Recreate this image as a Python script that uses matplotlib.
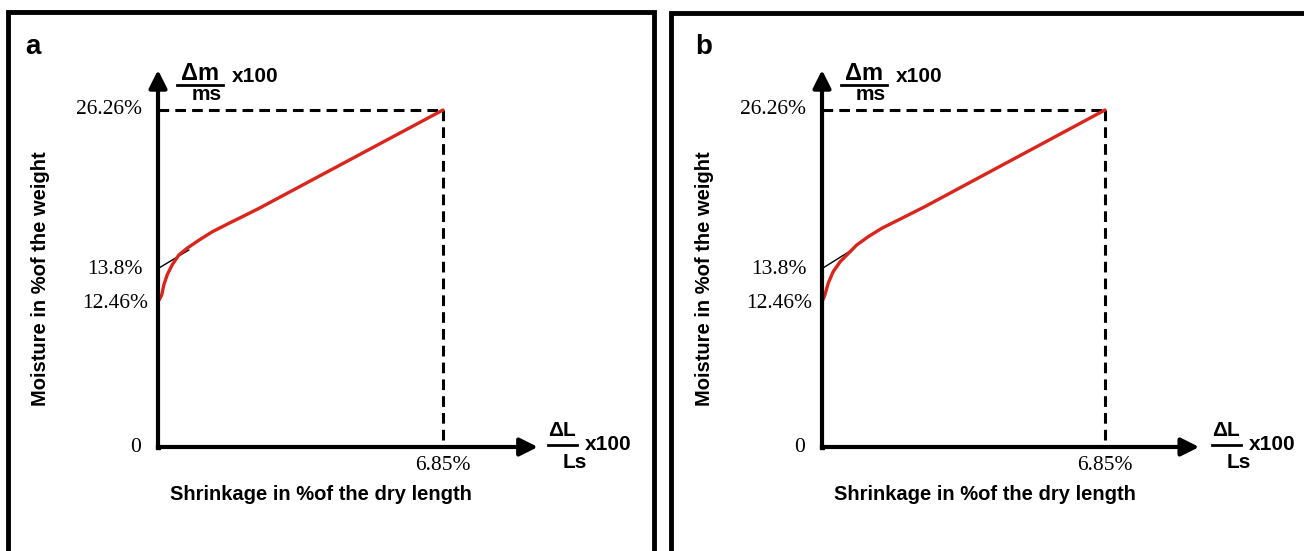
import matplotlib
matplotlib.use("Agg")
import matplotlib.pyplot as plt
from matplotlib.lines import Line2D

W, H = 1304, 551

# values
x_end = 6.85          # shrinkage at saturation (%)
y_end = 26.26         # moisture at saturation (%)

tangent_a_x = [0, 0.74]
tangent_a_y = [13.9, 15.35]
tangent_b_x = [0, 0.72]
tangent_b_y = [13.9, 15.35]

curve_a_x = [0, 0.09, 0.14, 0.22, 0.34, 0.50, 0.70, 0.99, 1.31, 1.71, 2.11, 2.43, 6.85]
curve_a_y = [11.3, 11.85, 12.63, 13.41, 14.19, 14.96, 15.49, 16.13, 16.78, 17.44, 18.08, 18.60, 26.26]

curve_b_x = [0, 0.07, 0.15, 0.27, 0.44, 0.64, 0.84, 1.12, 1.45, 1.85, 2.25, 2.49, 6.85]
curve_b_y = [11.3, 11.85, 12.76, 13.66, 14.44, 15.09, 15.74, 16.39, 17.05, 17.69, 18.34, 18.73, 26.26]

ytick_labels = ["0", "12.46%", "13.8%", "26.26%"]
ytick_pos = [0, 11.2, 13.8, 26.26]
ytick_dx = [-17, -10, -15, -16]   # px left of the axis
xtick_label = "6.85%"


def fx(px):
    return px / W


def fy(py):
    return 1 - py / H


fig = plt.figure(figsize=(W / 100, H / 100), dpi=100)

# panel frames (bottom and right of b are cut off)
fig.add_artist(Line2D([fx(8), fx(8), fx(654), fx(654)], [-0.01, fy(12), fy(12), -0.01],
                      lw=3.5, color="k", solid_joinstyle="miter"))
fig.add_artist(Line2D([fx(671), fx(671), 1.01], [-0.01, fy(13), fy(13)],
                      lw=3.5, color="k", solid_joinstyle="miter"))

sans = "Liberation Sans"
serif = "Liberation Serif"

panels = [("a", 0, 25, 285, curve_a_x, curve_a_y, tangent_a_x, tangent_a_y),
          ("b", 664, 695, 283, curve_b_x, curve_b_y, tangent_b_x, tangent_b_y)]

for letter, dx, letter_x, width, cx, cy, tx, ty in panels:
    x0 = 158 + dx
    ax = fig.add_axes([fx(x0), fy(447), width / W, 337 / H])
    ax.set_xlim(0, x_end)
    ax.set_ylim(0, y_end)
    ax.axis("off")

    # axes with arrows
    arrow = dict(arrowstyle="-|>,head_length=0.6,head_width=0.3", lw=3, color="k",
                 shrinkA=0, shrinkB=0, mutation_scale=18)
    ax.annotate("", xy=(9.13, 0), xytext=(0, 0), arrowprops=arrow, annotation_clip=False)
    ax.annotate("", xy=(0, 29.38), xytext=(0, 0), arrowprops=arrow, annotation_clip=False)
    ax.plot(0, 0, "ks", ms=3, clip_on=False)

    # dashed guide lines
    ax.plot([0, x_end], [y_end, y_end], color="k", lw=2.2, ls=(0, (3.5, 2)), clip_on=False)
    ax.plot([x_end, x_end], [y_end, 0], color="k", lw=2.2, ls=(0, (3.5, 2)), clip_on=False)

    # tangent and curve
    ax.plot(tx, ty, color="k", lw=1, clip_on=False)
    ax.plot(cx, cy, color="#d8261d", lw=2.4, clip_on=False,
            solid_capstyle="round", solid_joinstyle="round")

    # tick labels
    for lab, yp, off in zip(ytick_labels, ytick_pos, ytick_dx):
        ax.annotate(lab, xy=(0, yp), xytext=(off * 0.72, 0), textcoords="offset points",
                    ha="right", va="center", fontsize=15.5, family=serif,
                    annotation_clip=False)
    ax.annotate(xtick_label, xy=(x_end, 0), xytext=(0, -19 * 0.72), textcoords="offset points",
                ha="center", va="center", fontsize=15.5, family=serif, annotation_clip=False)

    # axis titles
    fig.text(fx(41 + dx), fy(279), "Moisture in %of the weight", rotation=90,
             ha="center", va="center", fontsize=14.5, fontweight="bold", family=sans)
    fig.text(fx(321 + dx), fy(494), "Shrinkage in %of the dry length",
             ha="center", va="center", fontsize=14.5, fontweight="bold", family=sans)

    # fraction labels
    fig.text(fx(200 + dx), fy(73), "\u0394m", ha="center", va="center",
             fontsize=17, fontweight="bold", family=sans)
    fig.add_artist(Line2D([fx(177 + dx), fx(223 + dx)], [fy(85), fy(85)], lw=2, color="k"))
    fig.text(fx(207 + dx), fy(95), "ms", ha="center", va="center",
             fontsize=15, fontweight="bold", family=sans)
    fig.text(fx(232 + dx), fy(77), "x100", ha="left", va="center",
             fontsize=15, fontweight="bold", family=sans)

    fig.text(fx(562 + dx), fy(431), "\u0394L", ha="center", va="center",
             fontsize=15, fontweight="bold", family=sans)
    fig.add_artist(Line2D([fx(548 + dx), fx(577 + dx)], [fy(445), fy(445)], lw=2, color="k"))
    fig.text(fx(575 + dx), fy(462), "Ls", ha="center", va="center",
             fontsize=15, fontweight="bold", family=sans)
    fig.text(fx(585 + dx), fy(444), "x100", ha="left", va="center",
             fontsize=15, fontweight="bold", family=sans)

    # panel letter
    fig.text(fx(letter_x), fy(54), letter, ha="left", va="baseline",
             fontsize=20, fontweight="bold", family=sans)

fig.savefig("out.png", dpi=100)
